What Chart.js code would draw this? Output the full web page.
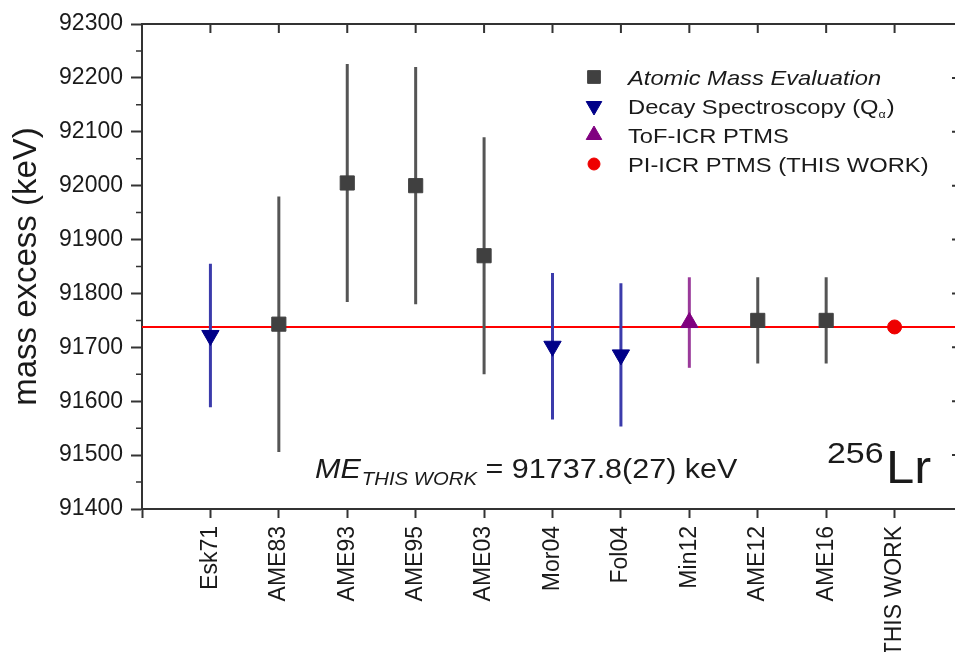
<!DOCTYPE html>
<html>
<head>
<meta charset="utf-8">
<script src="https://cdn.jsdelivr.net/npm/chart.js@4.4.0/dist/chart.umd.min.js"></script>
<style>
html, body { margin: 0; padding: 0; background: #fff; overflow: hidden; }
#caja { width: 975px; height: 652px; position: relative; }
canvas { display: block; }
</style>
</head>
<body>
<div id="caja"><canvas id="grafico" width="975" height="652" style="width:975px;height:652px"></canvas></div>
<script>
const etiquetas = ['Esk71', 'AME83', 'AME93', 'AME95', 'AME03', 'Mor04', 'Fol04', 'Min12', 'AME12', 'AME16', 'THIS WORK'];

// Atomic Mass Evaluation
const ameX = [2, 3, 4, 5, 9, 10];
const ameY = [91743, 92005, 92000, 91870, 91750, 91750];
const ameErr = [237, 221, 220, 220, 80, 80];

// Decay spectroscopy (Q alpha)
const decX = [1, 6, 7];
const decY = [91722, 91702, 91686];
const decErr = [133, 136, 133];

// ToF-ICR PTMS
const tofX = [8];
const tofY = [91746];
const tofErr = [84];

// PI-ICR PTMS (this work)
const piX = [11];
const piY = [91737.8];
const piErr = [2.7];

const FUENTE = 'Liberation Sans, Arial, sans-serif';
const TEXTO = '#1a1a1a';
const EJE = '#333';

function puntos(xs, ys) {
    return xs.map((x, i) => ({ x: x, y: ys[i] }));
}

// segmentos verticales separados por null
function barras(xs, ys, errs) {
    const pts = [];
    xs.forEach((x, i) => {
        pts.push({ x: x, y: ys[i] - errs[i] }, { x: x, y: ys[i] + errs[i] }, { x: x, y: null });
    });
    return pts;
}

function barraDataset(data, color) {
    return {
        data: data, borderColor: color, borderWidth: 3, pointRadius: 0,
        spanGaps: false, fill: false, order: 2
    };
}

function marcaDataset(label, data, estilo, radio, relleno, rotacion, italica) {
    return {
        label: label, data: data, showLine: false, order: 1,
        pointStyle: estilo, pointRadius: radio, pointRotation: rotacion || 0,
        pointBackgroundColor: relleno, pointBorderColor: relleno, pointBorderWidth: 1,
        enLeyenda: true, italica: !!italica
    };
}

function dibujarTexto(ctx, texto, x, y, fuente, sx) {
    ctx.save();
    ctx.translate(x, y);
    ctx.scale(sx, 1);
    ctx.font = fuente;
    ctx.fillText(texto, 0, 0);
    const w = ctx.measureText(texto).width * sx;
    ctx.restore();
    return w;
}

const marcoPlugin = {
    id: 'marco',
    afterDraw(chart) {
        const { ctx, chartArea: a, scales: { x, y } } = chart;
        ctx.save();
        ctx.strokeStyle = EJE;
        ctx.lineWidth = 2;
        ctx.beginPath();
        ctx.moveTo(a.left - 1, a.top);
        ctx.lineTo(a.right, a.top);
        ctx.lineTo(a.right, a.bottom);
        for (let v = 1; v <= 11; v++) {
            const px = x.getPixelForValue(v);
            ctx.moveTo(px, a.top);
            ctx.lineTo(px, a.top + 9);
        }
        for (let v = 91500; v <= 92200; v += 100) {
            const py = y.getPixelForValue(v);
            ctx.moveTo(a.right, py);
            ctx.lineTo(a.right - 11, py);
        }
        ctx.stroke();
        ctx.lineWidth = 1.5;
        ctx.beginPath();
        for (let v = 91450; v < 92300; v += 100) {
            const py = y.getPixelForValue(v);
            ctx.moveTo(a.left, py);
            ctx.lineTo(a.left - 6, py);
        }
        ctx.stroke();
        ctx.restore();
    }
};

const leyendaPlugin = {
    id: 'leyenda',
    afterDraw(chart) {
        const { ctx, chartArea: a } = chart;
        const mx = a.right - 369;
        const tx = a.right - 335;
        chart.data.datasets.filter(d => d.enLeyenda).forEach((d, i) => {
            const cy = a.top + 53 + i * 29;
            ctx.save();
            ctx.fillStyle = d.pointBackgroundColor;
            ctx.strokeStyle = d.pointBorderColor;
            Chart.helpers.drawPoint(ctx, {
                pointStyle: d.pointStyle, radius: d.pointRadius - 1,
                rotation: d.pointRotation, borderWidth: 1
            }, mx, cy);
            ctx.restore();

            ctx.save();
            ctx.fillStyle = TEXTO;
            ctx.textBaseline = 'alphabetic';
            const base = cy + 8;
            const fuente = (d.italica ? 'italic ' : '') + '21px ' + FUENTE;
            const m = d.label.match(/^(.*Q)(α)(\).*)$/);
            if (m) {
                let px = tx;
                px += dibujarTexto(ctx, m[1], px, base, fuente, 1.13);
                px += dibujarTexto(ctx, m[2], px, base + 4, '11px ' + FUENTE, 1.13);
                dibujarTexto(ctx, m[3], px + 1, base, fuente, 1.13);
            } else {
                dibujarTexto(ctx, d.label, tx, base, fuente, 1.13);
            }
            ctx.restore();
        });
    }
};

const notasPlugin = {
    id: 'notas',
    afterDraw(chart) {
        const { ctx, chartArea: a } = chart;
        ctx.save();
        ctx.fillStyle = TEXTO;
        ctx.textBaseline = 'alphabetic';
        let px = a.left + 173;
        const base = a.bottom - 31;
        px += dibujarTexto(ctx, 'ME', px, base, 'italic 27px ' + FUENTE, 1.13);
        px += dibujarTexto(ctx, 'THIS WORK', px + 1, base + 7, 'italic 18px ' + FUENTE, 1.13);
        dibujarTexto(ctx, ' = ' + piY[0].toFixed(1) + '(27) keV', px + 1, base, '27px ' + FUENTE, 1.13);

        dibujarTexto(ctx, '256', a.right - 136, a.bottom - 46, '30px ' + FUENTE, 1.13);
        dibujarTexto(ctx, 'Lr', a.right - 77, a.bottom - 26, '47px ' + FUENTE, 1.08);
        ctx.restore();
    }
};

const datasets = [
    {
        data: [{ x: 0, y: piY[0] }, { x: 12, y: piY[0] }],
        borderColor: '#ff0000', borderWidth: 2, pointRadius: 0, fill: false, order: 3
    },
    barraDataset(barras(ameX, ameY, ameErr), '#555555'),
    barraDataset(barras(decX, decY, decErr), '#3b3bab'),
    barraDataset(barras(tofX, tofY, tofErr), '#9a3a9a'),
    barraDataset(barras(piX, piY, piErr), '#ff0000'),
    marcaDataset('Atomic Mass Evaluation', puntos(ameX, ameY), 'rect', 10, '#404040', 0, true),
    marcaDataset('Decay Spectroscopy (Qα)', puntos(decX, decY), 'triangle', 10, '#000088', 180),
    marcaDataset('ToF-ICR PTMS', puntos(tofX, tofY), 'triangle', 10, '#800080', 0),
    marcaDataset('PI-ICR PTMS (THIS WORK)', puntos(piX, piY), 'circle', 7, '#ee0000', 0)
];

new Chart(document.getElementById('grafico').getContext('2d'), {
    type: 'line',
    data: { datasets: datasets },
    options: {
        responsive: false,
        animation: false,
        layout: { padding: { top: 24, right: 12, left: 0, bottom: 0 } },
        plugins: { legend: { display: false }, tooltip: { enabled: false } },
        scales: {
            x: {
                type: 'linear', min: 0, max: 12,
                afterFit: s => { s.height = 143; s.paddingLeft = 0; s.paddingRight = 0; },
                afterBuildTicks: s => { s.ticks = etiquetas.concat(['', '']).map((t, i) => ({ value: i })); },
                ticks: {
                    autoSkip: false, minRotation: 90, maxRotation: 90, padding: 8,
                    color: TEXTO, font: { family: FUENTE, size: 23 },
                    callback: v => etiquetas[v - 1] || ''
                },
                grid: { drawOnChartArea: false, tickLength: 9, tickColor: EJE, tickWidth: 2 },
                border: { color: EJE, width: 2 }
            },
            y: {
                min: 91400, max: 92300,
                afterFit: s => { s.width = 142; },
                ticks: {
                    stepSize: 100, padding: 8, color: TEXTO, font: { family: FUENTE, size: 23 },
                    callback: v => String(v)
                },
                grid: { drawOnChartArea: false, tickLength: 11, tickColor: EJE, tickWidth: 2 },
                border: { color: EJE, width: 2 },
                title: {
                    display: true, text: 'mass excess (keV)', color: TEXTO,
                    font: { family: FUENTE, size: 33, lineHeight: 1.2 }, padding: { top: 7, bottom: 0 }
                }
            }
        }
    },
    plugins: [marcoPlugin, leyendaPlugin, notasPlugin]
});
</script>
</body>
</html>
